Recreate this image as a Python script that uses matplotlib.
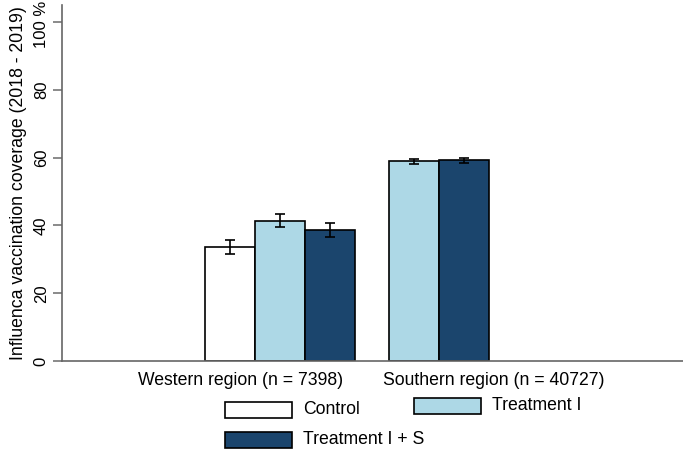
import matplotlib.pyplot as plt
from matplotlib.patches import Rectangle

plt.rcParams['font.family'] = ['Liberation Sans', 'DejaVu Sans']

groups = ['Western region (n = 7398)', 'Southern region (n = 40727)']
arms = ['Control', 'Treatment I', 'Treatment I + S']
colors = ['white', '#add8e6', '#1b456d']

# coverage (%) and half-width of CI per region; None = arm not present
west_vals = [33.7, 41.4, 38.6]
west_err = [2.0, 2.0, 2.0]
south_vals = [None, 58.9, 59.2]
south_err = [None, 0.7, 0.7]

W, H = 683, 450
fs = 12.7

fig = plt.figure(figsize=(W / 100, H / 100), dpi=100)
ax = fig.add_axes([62 / W, (H - 361) / H, 1 - 62 / W, (361 - 5) / H])

w = 1.0
west_x = [3.36, 4.36, 5.36]
south_x = [6.04, 7.04, 8.04]

for xs, vals, errs in [(west_x, west_vals, west_err), (south_x, south_vals, south_err)]:
    for x, v, e, c in zip(xs, vals, errs, colors):
        if v is None:
            continue
        ax.bar(x, v, width=w, color=c, edgecolor='black', linewidth=1.2, zorder=2)
        ax.errorbar(x, v, yerr=e, fmt='none', ecolor='black', elinewidth=1.2,
                    capsize=3.5, capthick=1.2, zorder=3)

ax.set_xlim(0, 12.42)
ax.set_ylim(0, 105)
ax.set_yticks([0, 20, 40, 60, 80, 100])
ax.set_yticklabels(['0', '20', '40', '60', '80', ''], rotation=90, va='center', fontsize=12)
# top label drawn separately so it stays inside the figure
fig.text(42 / W, 1 - 1 / H, '100 %', rotation=90, ha='center', va='top', fontsize=12)
ax.set_xticks([3.58, 8.64])
ax.set_xticklabels(groups, fontsize=fs)
ax.tick_params(axis='x', length=0, pad=8)
ax.tick_params(axis='y', length=6.5, color='#777777', width=1.2, pad=3)
for s in ['top', 'right']:
    ax.spines[s].set_visible(False)
for s in ['left', 'bottom']:
    ax.spines[s].set_color('#666666')
    ax.spines[s].set_linewidth(1.2)
ax.set_ylabel('Influenca vaccination coverage (2018 - 2019)', fontsize=fs, labelpad=5)

# legend boxes, placed like the original (pixel positions of box left/top)
leg_pos = [(225, 402), (414, 398), (225, 432)]
for (px, py), lab, c in zip(leg_pos, arms, colors):
    fig.patches.append(Rectangle((px / W, 1 - (py + 16) / H), 67 / W, 16 / H,
                                 transform=fig.transFigure, facecolor=c,
                                 edgecolor='black', linewidth=1.2))
    fig.text((px + 78) / W, 1 - (py + 8) / H, lab, fontsize=fs, va='center', ha='left')

fig.savefig('out.png', dpi=100)
